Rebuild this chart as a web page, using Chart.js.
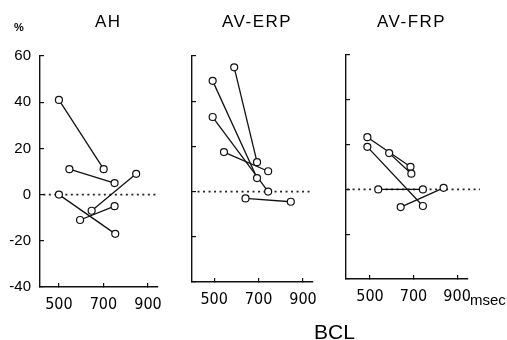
<!DOCTYPE html>
<html>
<head>
<meta charset="utf-8">
<script src="https://cdn.jsdelivr.net/npm/chart.js@4/dist/chart.umd.min.js"></script>
<style>
  html, body { margin: 0; padding: 0; background: #fff; }
  #wrap { position: relative; width: 507px; height: 340px; overflow: hidden; background: #fff; }
  canvas { position: absolute; left: 0; top: 0; }
  .lbl { position: absolute; font-family: 'Liberation Sans', Arial, sans-serif; color: #000; line-height: 1; white-space: nowrap; }
</style>
</head>
<body>
<div id="wrap">
  <canvas id="c1" width="507" height="340"></canvas>
  <canvas id="c2" width="507" height="340"></canvas>
  <canvas id="c3" width="507" height="340"></canvas>
  <div class="lbl" id="t1" style="left:95px; top:13px; font-size:17px; letter-spacing:1.5px;"></div>
  <div class="lbl" id="t2" style="left:222px; top:13px; font-size:17px; letter-spacing:1.5px;"></div>
  <div class="lbl" id="t3" style="left:377px; top:13px; font-size:17px; letter-spacing:1.5px;"></div>
  <div class="lbl" style="left:14px; top:22px; font-size:11px; font-weight:bold;">%</div>
  <div class="lbl" style="left:470px; top:292px; font-size:15px;">msec</div>
  <div class="lbl" style="left:314px; top:321px; font-size:21px;">BCL</div>
</div>
<script>
// ---- data ----
const xTicks = [500, 700, 900];
const yTicks = [-40, -20, 0, 20, 40, 60];
const panelTitles = ['AH', 'AV-ERP', 'AV-FRP'];

// AH: each subject = start point (BCL, %) -> end point (BCL, %)
const ahStartBCL = [500, 547, 500, 595, 647];
const ahStartPct = [41, 11, 0, -11, -7];
const ahEndBCL   = [701, 750, 753, 750, 847];
const ahEndPct   = [11, 5, -17, -5, 9];

// AV-ERP
const erpStartBCL = [590, 493, 493, 544, 641];
const erpStartPct = [55, 49, 33, 17.5, -3];
const erpEndBCL   = [693, 693, 743, 743, 845];
const erpEndPct   = [13, 6, 0, 9, -4.5];

// AV-FRP
const frpStartBCL = [488, 488, 588, 538, 641];
const frpStartPct = [23.3, 19, 16.2, 0, -7.9];
const frpEndBCL   = [686, 743, 690, 743, 838];
const frpEndPct   = [10.1, -7.4, 7, 0, 0.7];

document.getElementById('t1').textContent = panelTitles[0];
document.getElementById('t2').textContent = panelTitles[1];
document.getElementById('t3').textContent = panelTitles[2];

function makePanel(id, sx, sy, ex, ey, area, xRange, zeroRange, showY) {
  const datasets = [];
  // dotted zero reference line
  datasets.push({
    data: [{x: zeroRange[0], y: 0}, {x: zeroRange[1], y: 0}],
    showLine: true, borderColor: '#222', borderWidth: 1.7, borderDash: [2, 3.5],
    pointRadius: 0, order: 3, clip: false
  });
  const pts = [];
  for (let i = 0; i < sx.length; i++) {
    datasets.push({
      data: [{x: sx[i], y: sy[i]}, {x: ex[i], y: ey[i]}],
      showLine: true, borderColor: '#111', borderWidth: 1.3,
      pointRadius: 0, order: 2
    });
    pts.push({x: sx[i], y: sy[i]}, {x: ex[i], y: ey[i]});
  }
  datasets.push({
    data: pts, showLine: false, pointRadius: 3.5, pointBackgroundColor: '#fff',
    pointBorderColor: '#111', pointBorderWidth: 1.2, order: 0
  });
  const yW = 40, xH = 30;
  new Chart(document.getElementById(id), {
    type: 'scatter',
    data: { datasets },
    options: {
      responsive: false, animation: false, devicePixelRatio: 1,
      events: [],
      layout: { padding: { left: area.left - yW, right: 507 - area.right, top: area.top, bottom: 340 - area.bottom - xH } },
      plugins: { legend: { display: false }, tooltip: { enabled: false } },
      scales: {
        x: {
          type: 'linear', position: 'bottom', min: xRange[0], max: xRange[1],
          afterBuildTicks: s => { s.ticks = xTicks.map(v => ({value: v})); },
          afterFit: s => { s.height = xH; },
          grid: { drawOnChartArea: false, drawTicks: true, tickLength: -4, color: '#111', lineWidth: 1.2 },
          border: { display: true, color: '#111', width: 1.4 },
          ticks: { color: '#000', padding: 12, maxRotation: 0, autoSkip: false,
                   font: { family: "'Liberation Sans Narrow', 'DejaVu Sans Condensed', sans-serif", size: 16 } }
        },
        y: {
          type: 'linear', position: 'left', min: -40, max: 60,
          afterBuildTicks: s => { s.ticks = yTicks.map(v => ({value: v})); },
          afterFit: s => { s.width = yW; },
          grid: { drawOnChartArea: false, drawTicks: true, tickLength: -4, color: '#111', lineWidth: 1.2 },
          border: { display: true, color: '#111', width: 1.4 },
          ticks: { display: showY, color: '#000', padding: 13, autoSkip: false,
                   font: { family: "'Liberation Sans', Arial, sans-serif", size: 15 },
                   callback: v => (v < 0 ? '-' + Math.abs(v) : String(v)) }
        }
      }
    }
  });
}

makePanel('c1', ahStartBCL, ahStartPct, ahEndBCL, ahEndPct,
  {left: 40, right: 158, top: 56, bottom: 287}, [415, 945], [430, 945], true);
makePanel('c2', erpStartBCL, erpStartPct, erpEndBCL, erpEndPct,
  {left: 192, right: 313, top: 56, bottom: 282}, [400, 945], [425, 945], false);
makePanel('c3', frpStartBCL, frpStartPct, frpEndBCL, frpEndPct,
  {left: 346, right: 468, top: 55, bottom: 279}, [390, 950], [395, 1005], false);
</script>
</body>
</html>
